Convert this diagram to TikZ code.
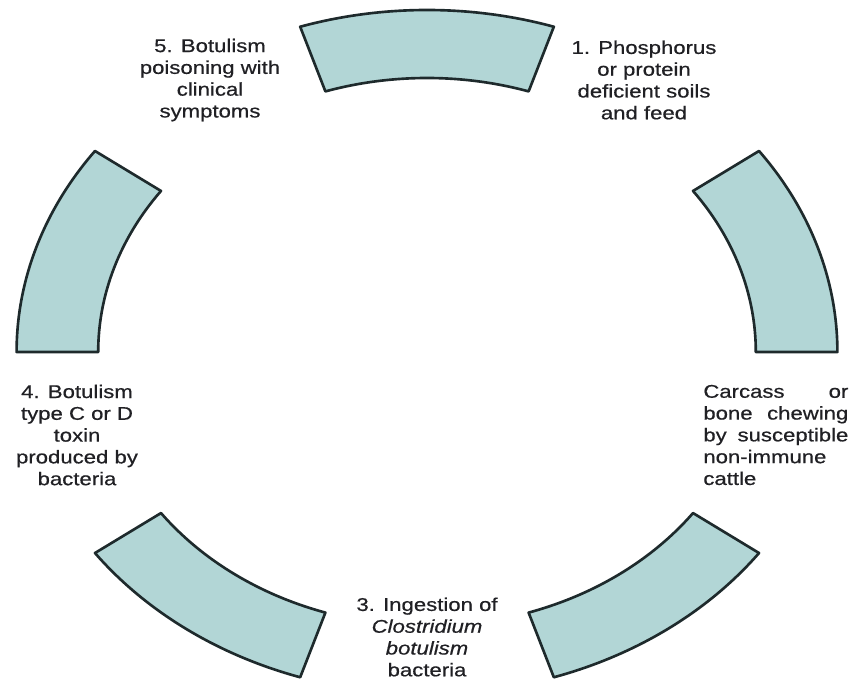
\documentclass[tikz,border=0pt]{standalone}
\usepackage{fontspec}
\setmainfont[FakeStretch=1.2, FakeBold=0.6]{Liberation Sans}
\usepackage{tikz}
\usetikzlibrary{positioning}
\usetikzlibrary{calc}

\definecolor{segfill}{RGB}{178,214,214}
\definecolor{segdraw}{RGB}{30,42,44}
\definecolor{stagetext}{RGB}{32,32,36}

\tikzset{
  ringpart/.style={fill=segfill, draw=segdraw, line width=1.5pt, line join=round},
  stage/.style={align=center, inner sep=0pt, text=stagetext,
    font=\fontsize{10.5}{12.4}\selectfont}
}

\begin{document}
\begin{tikzpicture}

  \useasboundingbox (0,0) rectangle (17.1,13.64);

%%%%%%%%%%%% Ring of five pieces
  \begin{scope}[shift={(8.54,6.60)}, xscale=1.2]
    \foreach \a in {0,72,...,288} {
      \draw[ringpart] (\a:6.84) arc[start angle=\a, delta angle=36, radius=6.84]
        -- (\a+36:5.48) arc[start angle=\a+36, delta angle=-36, radius=5.48] -- cycle;
    }
  \end{scope}

%%%%%%%%%%%% Stages
  \node[stage] (s1) at (12.88,12.04) {1. Phosphorus\\or protein\\deficient soils\\and feed};
  \node[stage, anchor=west, align=left, text width=2.9cm] (s2) at (14.06,4.94)
    {Carcass\hfill or\\bone\hfill chewing\\by\hfill susceptible\\non-immune\\cattle};
  \node[stage] (s3) at (8.54,0.90) {3. Ingestion of\\\textit{Clostridium}\\\textit{botulism}\\bacteria};
  \node[stage] (s4) at (1.54,4.94) {4. Botulism\\type C or D\\toxin\\produced by\\bacteria};
  \node[stage] (s5) at (4.20,12.04) {5. Botulism\\poisoning with\\clinical\\symptoms};

\end{tikzpicture}
\end{document}
